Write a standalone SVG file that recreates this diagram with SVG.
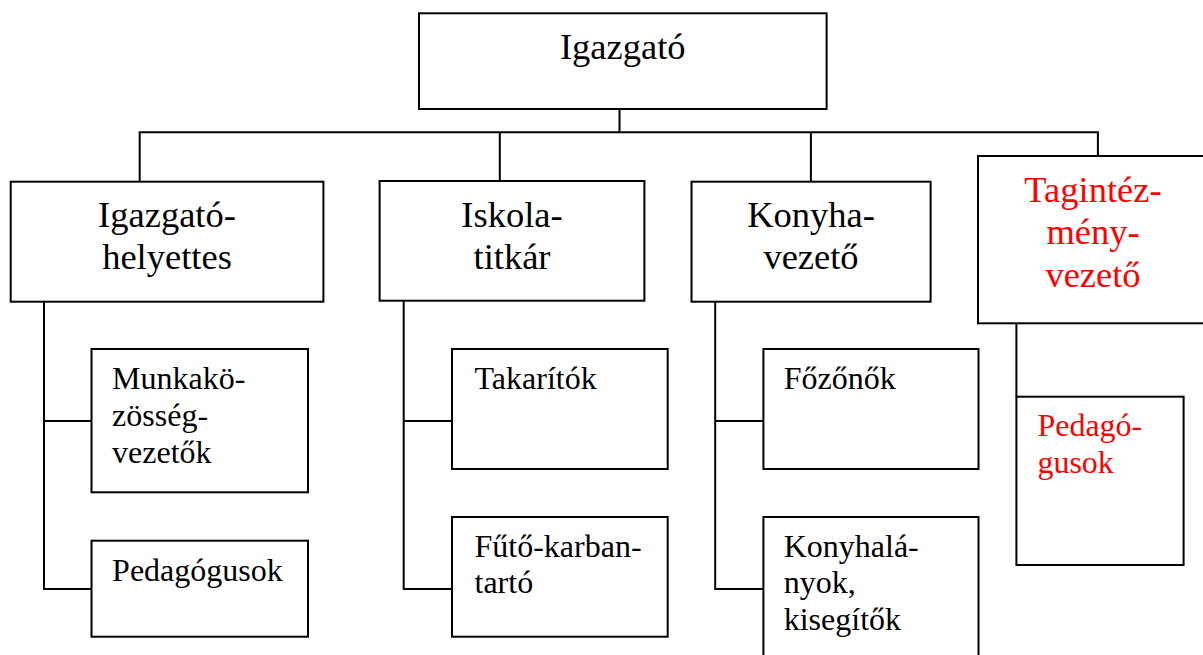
<svg xmlns="http://www.w3.org/2000/svg" width="1203" height="655" viewBox="0 0 1203 655">
<style>
.box{fill:#fff;stroke:#000;stroke-width:2}
.ln{fill:none;stroke:#000;stroke-width:2}
.big{font-family:"Liberation Serif","Times New Roman",serif;font-size:36.5px;fill:#000;text-anchor:middle}
.sm{font-family:"Liberation Serif","Times New Roman",serif;font-size:32px;fill:#000}
.red{fill:#ff0000}
</style>
<rect width="1203" height="655" fill="#fff"/>
<g id="connectors">
<path class="ln" d="M619.5,109 V132.3 M139.7,181.7 V132.3 H1097.9 V156 M499.8,132.3 V181 M810.9,132.3 V181.7"/>
<path class="ln" d="M44,301.7 V589 H91.5 M44,421 H91.5"/>
<path class="ln" d="M403.7,300.7 V589 H452 M403.7,421 H452"/>
<path class="ln" d="M715.2,301.7 V589 H763.4 M715.2,421 H763.4"/>
<path class="ln" d="M1016.4,323.3 V396.7"/>
</g>
<g id="igazgato">
<rect class="box" x="419" y="13.3" width="407.6" height="95.7"/>
<text class="big" x="622.8" y="58.5">Igazgató</text>
</g>
<g id="igazgatohelyettes">
<rect class="box" x="10.7" y="181.7" width="312.7" height="120"/>
<text class="big" x="167" y="226.7">Igazgató-</text>
<text class="big" x="167" y="269">helyettes</text>
</g>
<g id="iskolatitkar">
<rect class="box" x="379.6" y="181" width="264.8" height="119.7"/>
<text class="big" x="512" y="226.7">Iskola-</text>
<text class="big" x="512" y="269">titkár</text>
</g>
<g id="konyhavezeto">
<rect class="box" x="691.5" y="181.7" width="239.1" height="120"/>
<text class="big" x="811" y="227.3">Konyha-</text>
<text class="big" x="811" y="268.7">vezető</text>
</g>
<g id="tagintezmenyvezeto">
<rect class="box" x="978" y="156" width="230" height="167.3"/>
<text class="big red" x="1093" y="201.7">Tagintéz-</text>
<text class="big red" x="1093" y="244.2">mény-</text>
<text class="big red" x="1093" y="286.7">vezető</text>
</g>
<g id="munkakozossegvezetok">
<rect class="box" x="91.5" y="349" width="216.5" height="143.3"/>
<text class="sm" x="112.1" y="389">Munkakö-</text>
<text class="sm" x="112.1" y="425.8">zösség-</text>
<text class="sm" x="112.1" y="462.6">vezetők</text>
</g>
<g id="pedagogusok">
<rect class="box" x="91.5" y="540.7" width="216.5" height="96"/>
<text class="sm" x="112.1" y="581">Pedagógusok</text>
</g>
<g id="takaritok">
<rect class="box" x="452" y="349" width="215.7" height="120"/>
<text class="sm" x="474.5" y="389">Takarítók</text>
</g>
<g id="futokarbantarto">
<rect class="box" x="452" y="517" width="215.7" height="119.7"/>
<text class="sm" x="474.5" y="556.7">Fűtő-karban-</text>
<text class="sm" x="474.5" y="593.3">tartó</text>
</g>
<g id="fozonok">
<rect class="box" x="763.4" y="349" width="215.1" height="120"/>
<text class="sm" x="783.7" y="389">Főzőnők</text>
</g>
<g id="konyhalanyok">
<rect class="box" x="763.4" y="517" width="215.1" height="160"/>
<text class="sm" x="783.7" y="556.7">Konyhalá-</text>
<text class="sm" x="783.7" y="593.3">nyok,</text>
<text class="sm" x="783.7" y="630">kisegítők</text>
</g>
<g id="pedagogusok2">
<rect class="box" x="1016.4" y="396.7" width="167.2" height="168.3"/>
<text class="sm red" x="1037.4" y="435.7">Pedagó-</text>
<text class="sm red" x="1037.4" y="472.7">gusok</text>
</g>
</svg>
